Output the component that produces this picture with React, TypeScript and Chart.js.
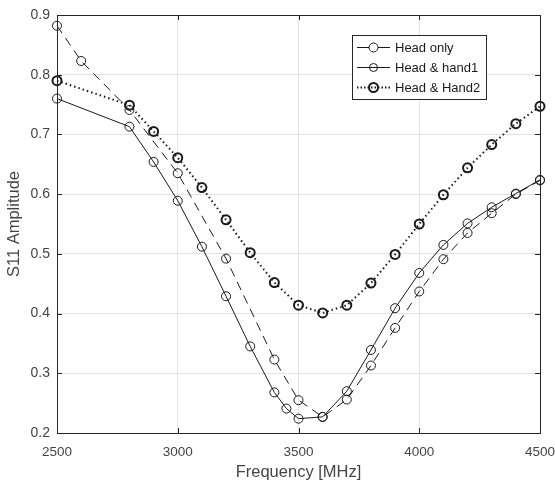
import React, { useEffect, useRef } from "react";
import { Chart, registerables } from "chart.js";

Chart.register(...registerables);

const seriesNames = ["Head only", "Head & hand1", "Head & Hand2"];

const headOnlyFreq = [2500, 2600, 2800, 3000, 3200, 3400, 3500, 3600, 3700, 3800, 3900, 4000, 4100, 4200, 4300, 4400, 4500];
const headOnlyS11 = [0.882, 0.823, 0.741, 0.635, 0.492, 0.323, 0.255, 0.227, 0.256, 0.313, 0.376, 0.437, 0.491, 0.535, 0.568, 0.6, 0.623];

const hand1Freq = [2500, 2800, 2900, 3000, 3100, 3200, 3300, 3400, 3450, 3500, 3600, 3700, 3800, 3900, 4000, 4100, 4200, 4300, 4400, 4500];
const hand1S11 = [0.76, 0.713, 0.654, 0.589, 0.512, 0.429, 0.345, 0.268, 0.241, 0.224, 0.227, 0.27, 0.339, 0.409, 0.468, 0.515, 0.551, 0.578, 0.601, 0.624];

const hand2Freq = [2500, 2800, 2900, 3000, 3100, 3200, 3300, 3400, 3500, 3600, 3700, 3800, 3900, 4000, 4100, 4200, 4300, 4400, 4500];
const hand2S11 = [0.79, 0.749, 0.705, 0.661, 0.611, 0.557, 0.502, 0.452, 0.414, 0.401, 0.414, 0.451, 0.499, 0.55, 0.599, 0.644, 0.683, 0.718, 0.747];

const FONT = "'Liberation Sans', Arial, Helvetica, sans-serif";
const TEXT = "#454545";

const toPoints = (xs: number[], ys: number[]) => xs.map((x, i) => ({ x, y: ys[i] }));

const boxPlugin = {
  id: "boxAndTicks",
  afterDatasetsDraw(chart: any) {
    const { ctx, chartArea: a, scales } = chart;
    ctx.save();
    ctx.strokeStyle = "#262626";
    ctx.lineWidth = 1;
    ctx.strokeRect(a.left + 0.5, a.top + 0.5, a.right - a.left, a.bottom - a.top);
    const tl = 5;
    ctx.beginPath();
    scales.x.ticks.forEach((t: any) => {
      const px = Math.round(scales.x.getPixelForValue(t.value)) + 0.5;
      ctx.moveTo(px, a.bottom);
      ctx.lineTo(px, a.bottom - tl);
      ctx.moveTo(px, a.top);
      ctx.lineTo(px, a.top + tl);
    });
    scales.y.ticks.forEach((t: any) => {
      const py = Math.round(scales.y.getPixelForValue(t.value)) + 0.5;
      ctx.moveTo(a.left, py);
      ctx.lineTo(a.left + tl, py);
      ctx.moveTo(a.right, py);
      ctx.lineTo(a.right - tl, py);
    });
    ctx.stroke();
    ctx.restore();
  },
  afterDraw(chart: any) {
    const { ctx } = chart;
    const x0 = 352, y0 = 35, w = 134, h = 64;
    ctx.save();
    ctx.fillStyle = "#ffffff";
    ctx.fillRect(x0, y0, w, h);
    ctx.strokeStyle = "#262626";
    ctx.lineWidth = 1;
    ctx.strokeRect(x0 + 0.5, y0 + 0.5, w, h);
    chart.data.datasets.forEach((ds: any, i: number) => {
      const y = y0 + 12 + i * 20 + 0.5;
      ctx.strokeStyle = "#1a1a1a";
      ctx.lineWidth = ds.borderWidth;
      ctx.setLineDash(i === 2 ? [1.5, 2] : []);
      ctx.beginPath();
      ctx.moveTo(357, y);
      ctx.lineTo(390, y);
      ctx.stroke();
      ctx.setLineDash([]);
      ctx.fillStyle = "#ffffff";
      ctx.lineWidth = ds.pointBorderWidth;
      ctx.beginPath();
      ctx.arc(373.5, y, i === 1 ? 4 : 4.5, 0, Math.PI * 2);
      if (i === 0) ctx.fill();
      ctx.stroke();
      ctx.fillStyle = "#1a1a1a";
      ctx.font = `13px ${FONT}`;
      ctx.textBaseline = "middle";
      ctx.fillText(seriesNames[i], 395, y + 0.5);
    });
    ctx.restore();
  },
};

export default function App() {
  const ref = useRef<HTMLCanvasElement | null>(null);
  useEffect(() => {
    if (!ref.current) return;
    const chart = new Chart(ref.current, {
      type: "line",
      data: {
        datasets: [
          {
            label: seriesNames[0],
            data: toPoints(headOnlyFreq, headOnlyS11),
            borderColor: "#1a1a1a",
            borderWidth: 1,
            borderDash: [9, 6],
            pointRadius: 4.5,
            pointBorderWidth: 1,
            pointBorderColor: "#1a1a1a",
            pointBackgroundColor: "rgba(0,0,0,0)",
            tension: 0,
            clip: false,
          },
          {
            label: seriesNames[1],
            data: toPoints(hand1Freq, hand1S11),
            borderColor: "#1a1a1a",
            borderWidth: 1,
            pointRadius: 4.5,
            pointBorderWidth: 1,
            pointBorderColor: "#1a1a1a",
            pointBackgroundColor: "rgba(0,0,0,0)",
            tension: 0,
            clip: false,
          },
          {
            label: seriesNames[2],
            data: toPoints(hand2Freq, hand2S11),
            borderColor: "#1a1a1a",
            borderWidth: 2,
            borderDash: [1.5, 3],
            pointRadius: 4.5,
            pointBorderWidth: 2,
            pointBorderColor: "#1a1a1a",
            pointBackgroundColor: "rgba(0,0,0,0)",
            tension: 0,
            clip: false,
          },
        ] as any,
      },
      options: {
        animation: false,
        responsive: false,
        maintainAspectRatio: false,
        layout: { padding: { top: 15, right: 15, bottom: 0, left: 0 } },
        plugins: { legend: { display: false }, tooltip: { enabled: false } },
        scales: {
          x: {
            type: "linear",
            min: 2500,
            max: 4500,
            ticks: {
              stepSize: 500,
              color: TEXT,
              font: { family: FONT, size: 13.5 },
              padding: 11,
              maxRotation: 0,
              callback: (v: any) => String(v),
            },
            grid: { color: "#e3e3e3", drawTicks: false },
            border: { display: false },
            title: {
              display: true,
              text: "Frequency [MHz]",
              color: TEXT,
              font: { family: FONT, size: 16.5 },
              padding: { top: 0, bottom: 9 },
            },
            afterFit: (s: any) => {
              s.height = 58;
              s.paddingLeft = 0;
              s.paddingRight = 0;
            },
          },
          y: {
            type: "linear",
            min: 0.2,
            max: 0.9,
            ticks: {
              stepSize: 0.1,
              color: TEXT,
              font: { family: FONT, size: 14 },
              padding: 7,
              callback: (v: any) => Number(v).toFixed(1),
            },
            grid: { color: "#e3e3e3", drawTicks: false },
            border: { display: false },
            title: {
              display: true,
              text: "S11 Amplitude",
              color: TEXT,
              font: { family: FONT, size: 16.5 },
              padding: { top: 5, bottom: 0 },
            },
            afterFit: (s: any) => {
              s.width = 57;
              s.paddingTop = 0;
              s.paddingBottom = 0;
            },
          },
        },
      },
      plugins: [boxPlugin],
    });
    return () => chart.destroy();
  }, []);
  return (
    <div style={{ position: "fixed", left: 0, top: 0, width: 555, height: 491, background: "#fff" }}>
      <canvas ref={ref} width={555} height={491} style={{ width: 555, height: 491, display: "block" }} />
    </div>
  );
}
